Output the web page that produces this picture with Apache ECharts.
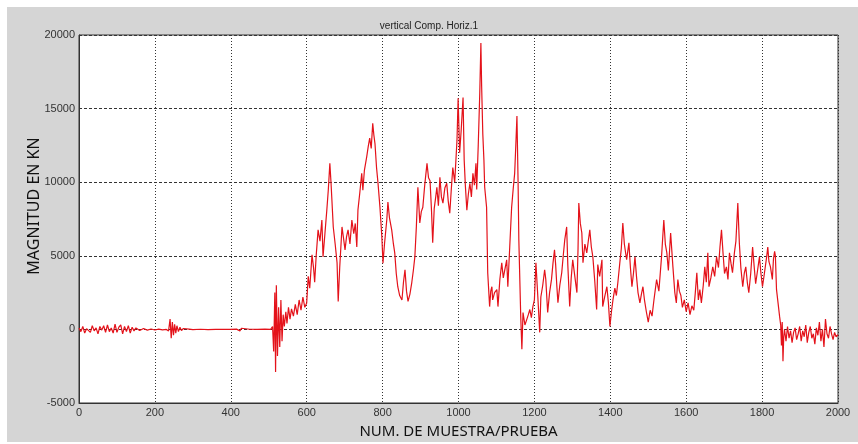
<!DOCTYPE html>
<html>
<head>
<meta charset="utf-8">
<script src="https://cdn.jsdelivr.net/npm/echarts@6/dist/echarts.min.js"></script>
<style>
  html, body { margin: 0; padding: 0; background: #fff; }
  #chart { width: 858px; height: 444px; }
</style>
</head>
<body>
<div id="chart"></div>
<script>
// samples as [sample number, kN]
const quietStart = [
  [0, 100], [5, -150], [10, 200], [15, -250], [20, 50], [25, 150], [30, -200], [35, 250],
  [40, -100], [45, 100], [50, -300], [55, 200], [60, -50], [65, 250], [70, -200], [75, 300],
  [80, -150], [85, 100], [90, -250], [95, 350], [100, -200], [105, 150], [110, 300], [115, -300],
  [120, 200], [125, -150], [130, 250], [135, -250], [140, 150], [145, -100], [150, 100], [160, -80],
  [170, 60], [180, -50], [190, 30], [200, -40], [210, 20], [220, -30], [230, 0], [236, -100],
  [240, 700], [243, -600], [246, 500], [249, -400], [252, 350], [255, -250], [258, 250], [262, -150],
  [266, 150], [270, -80], [275, 60], [280, -30], [290, 20], [300, -20], [320, 10], [340, -10],
  [360, 0], [380, 10], [400, 0], [415, 20], [420, 120], [424, -100], [428, 80], [432, 0],
  [450, 10], [470, 0], [490, 20], [505, 0]
];
const firstBurst = [
  [510, 200], [513, -1500], [516, 2500], [518, -2900], [520, 3000], [523, -1800], [526, 1500],
  [529, -1200], [532, 2000], [535, -800], [538, 1000], [541, 200], [545, 1200], [548, 400],
  [552, 1500], [556, 700], [560, 1400], [565, 900], [570, 1700], [575, 1000], [580, 2000],
  [585, 1300], [590, 2200], [595, 1500], [600, 1800]
];
const riseZone = [
  [604, 3600], [608, 2800], [614, 5070], [618, 4200], [621, 3200], [625, 5000], [630, 6760],
  [635, 6000], [640, 7430], [643, 4930], [648, 6500], [653, 8100], [657, 9500], [661, 11280],
  [664, 10000], [666, 9000], [670, 6960], [675, 5800], [680, 4530], [683, 1890], [687, 4200],
  [693, 6960], [697, 6200], [701, 5400], [705, 6300], [709, 6760], [714, 5800], [719, 7430],
  [724, 6500], [728, 7200], [732, 5600], [735, 8100], [740, 9300], [745, 10600], [748, 9460],
  [752, 10800], [758, 11700], [762, 12400], [766, 13000], [770, 12300], [774, 14000], [777, 13200],
  [780, 12600], [784, 11000], [788, 9900], [793, 8300], [798, 6300], [801, 4500], [805, 5800],
  [811, 7430], [814, 8650], [818, 7600], [824, 6760], [828, 5900], [832, 5200], [836, 3800],
  [840, 2900], [845, 2300], [851, 2000], [855, 3200], [859, 4050], [863, 2600], [867, 1900],
  [872, 2400], [877, 3200], [881, 4000], [885, 4930]
];
const peakZone = [
  [889, 7000], [893, 9660], [898, 7230], [902, 8000], [906, 8300], [911, 9800], [917, 11280],
  [921, 10300], [925, 10100], [929, 8000], [932, 5880], [936, 8200], [940, 9000], [943, 9660],
  [947, 8400], [951, 10340], [955, 9000], [959, 8580], [964, 9600], [969, 9930], [973, 8700],
  [977, 7900], [981, 9500], [985, 11000], [990, 10000], [996, 12840], [999, 15700], [1003, 12000],
  [1007, 13500], [1012, 15750], [1015, 11500], [1018, 9800], [1022, 8100], [1026, 9200],
  [1030, 9930], [1034, 9000], [1038, 10600], [1042, 9800], [1046, 11280], [1048, 9500],
  [1052, 12500], [1056, 16000], [1059, 19460], [1061, 16500], [1064, 13300], [1067, 11500],
  [1069, 9660], [1074, 8300], [1077, 3850], [1082, 1550], [1085, 2600], [1088, 2900], [1090, 2000],
  [1095, 2500], [1101, 2700], [1104, 1550], [1109, 3400], [1114, 4530], [1118, 3500], [1122, 4050],
  [1127, 4730], [1130, 2900], [1135, 5600], [1140, 8300], [1144, 9500], [1148, 10600],
  [1151, 12500], [1154, 14500], [1157, 10000], [1159, 6080], [1164, 880], [1167, -1350],
  [1170, 1150], [1175, 300], [1180, 680], [1184, 1000], [1188, 1350], [1192, 800], [1196, 1550],
  [1200, 2000]
];
const midZone = [
  [1204, 4530], [1209, 2230], [1214, -200], [1217, 2200], [1222, 3000], [1227, 4050], [1230, 3400],
  [1235, 1150], [1240, 2500], [1245, 3380], [1249, 4500], [1253, 5400], [1256, 4400], [1259, 3000],
  [1262, 1820], [1267, 3000], [1272, 3850], [1276, 5000], [1280, 6080], [1285, 6960], [1288, 4400],
  [1293, 1550], [1297, 3500], [1301, 4730], [1306, 3700], [1312, 2500], [1315, 5500], [1317, 8580],
  [1321, 7200], [1325, 6550], [1328, 4530], [1333, 5800], [1338, 5200], [1342, 6000], [1346, 6760],
  [1350, 5600], [1354, 4930], [1359, 3300], [1364, 1350], [1367, 4400], [1372, 3600], [1378, 4730],
  [1380, 1550], [1385, 2200], [1391, 2900], [1395, 1800], [1399, 200], [1403, 1200], [1407, 2000],
  [1412, 2800], [1416, 2300], [1420, 3200], [1425, 4500], [1429, 5500], [1433, 7230], [1437, 5800],
  [1443, 4730], [1449, 5880], [1453, 4200], [1457, 2900], [1461, 3800], [1465, 4930], [1469, 3600],
  [1473, 2500], [1478, 1800], [1482, 2400], [1486, 2900], [1490, 2000], [1495, 1200], [1500, 500],
  [1505, 1300], [1510, 900], [1515, 2000], [1522, 3380], [1528, 2600], [1535, 4930], [1541, 7430],
  [1545, 5800], [1549, 5200], [1553, 4000], [1559, 6550], [1565, 4250], [1570, 2500], [1574, 1800],
  [1578, 3380], [1582, 2600], [1586, 2300], [1590, 1500], [1595, 2000], [1600, 1200]
];
const lateZone = [
  [1605, 1800], [1610, 1000], [1615, 1600], [1620, 1300], [1624, 2500], [1628, 3850], [1632, 2000],
  [1636, 2700], [1640, 1800], [1645, 3000], [1649, 4250], [1653, 3200], [1657, 5200], [1660, 2900],
  [1665, 3500], [1670, 4250], [1675, 3600], [1680, 4930], [1685, 4200], [1689, 5600], [1693, 6760],
  [1697, 5200], [1701, 3800], [1706, 4250], [1710, 3400], [1714, 5200], [1718, 4500], [1722, 3850],
  [1727, 5200], [1731, 6000], [1736, 8580], [1740, 5880], [1744, 4200], [1749, 2900], [1753, 3800],
  [1757, 4250], [1761, 3200], [1765, 2500], [1770, 3800], [1775, 5600], [1779, 4300], [1783, 3100],
  [1788, 4000], [1793, 4930], [1797, 3800], [1801, 2900], [1806, 3800], [1812, 4930], [1815, 5600],
  [1818, 4600], [1822, 4250], [1827, 3400], [1830, 4800], [1833, 5300], [1835, 5000], [1838, 2700],
  [1842, 1800], [1846, 900], [1849, 300], [1851, -1100], [1853, 500], [1855, -2160], [1857, -500]
];
const quietEnd = [
  [1859, 0], [1863, -800], [1867, 200], [1871, -600], [1875, -100], [1879, -900], [1883, -200],
  [1887, 100], [1891, -700], [1895, -300], [1899, 200], [1903, -800], [1907, -100], [1911, -500],
  [1915, 300], [1919, -900], [1923, -200], [1927, 200], [1931, -600], [1935, -300], [1939, -1000],
  [1943, 100], [1947, -400], [1951, 500], [1955, -800], [1959, 0], [1963, -1200], [1967, 700],
  [1971, -300], [1975, -600], [1979, 200], [1983, -300], [1987, -700], [1991, -200], [1995, -500],
  [2000, -350]
];

const xTicks = [0, 200, 400, 600, 800, 1000, 1200, 1400, 1600, 1800, 2000];
const yTicks = [-5000, 0, 5000, 10000, 15000, 20000];

const readings = [].concat(quietStart, firstBurst, riseZone, peakZone, midZone, lateZone, quietEnd);

const chart = echarts.init(document.getElementById('chart'));
chart.setOption({
  animation: false,
  backgroundColor: '#fff',
  graphic: [{
    type: 'rect', z: -10, silent: true,
    shape: { x: 7, y: 7, width: 851, height: 435 },
    style: { fill: '#d5d5d5' }
  }, {
    // y axis title, sits a little above the plot middle like the original
    type: 'text', silent: true,
    x: 34, y: 206, rotation: Math.PI / 2,
    style: {
      text: 'MAGNITUD EN KN', align: 'center', verticalAlign: 'middle',
      font: '16px "Noto Sans"', fill: '#111'
    }
  }],
  title: {
    text: 'vertical Comp. Horiz.1',
    left: 'center', top: 16,
    textStyle: { fontFamily: 'Liberation Sans', fontSize: 10, fontWeight: 'normal', color: '#222' }
  },
  grid: {
    left: 79, right: 20, top: 35, bottom: 40,
    show: true, backgroundColor: '#fff', borderColor: '#333', borderWidth: 1
  },
  xAxis: {
    type: 'value', min: xTicks[0], max: xTicks[xTicks.length - 1], interval: 200,
    name: 'NUM. DE MUESTRA/PRUEBA', nameLocation: 'middle', nameGap: 21,
    nameTextStyle: { fontFamily: 'Noto Sans', fontSize: 15, color: '#111' },
    axisLine: { onZero: false, lineStyle: { color: '#333' } },
    axisTick: { show: false },
    axisLabel: { fontFamily: 'Liberation Sans', fontSize: 11, color: '#333', margin: 4, formatter: v => String(v) },
    splitLine: { lineStyle: { color: '#333', type: [1, 2], width: 1 } }
  },
  yAxis: {
    type: 'value', min: yTicks[0], max: yTicks[yTicks.length - 1], interval: 5000,
    axisLine: { show: true, onZero: false, lineStyle: { color: '#333' } },
    axisTick: { show: false },
    axisLabel: { fontFamily: 'Liberation Sans', fontSize: 11, color: '#333', margin: 4, formatter: v => String(v) },
    splitLine: { lineStyle: { color: '#333', type: [3, 2], width: 1 } }
  },
  series: [{
    type: 'line',
    data: readings,
    showSymbol: false,
    lineStyle: { color: '#e4121a', width: 1.2 },
    z: 3
  }]
});
</script>
</body>
</html>
